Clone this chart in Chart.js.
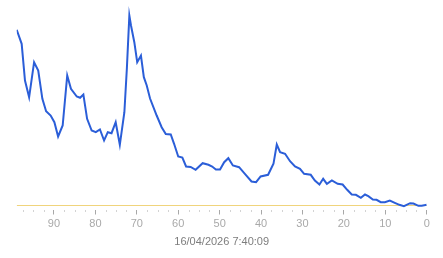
<!DOCTYPE html>
<html>
<head>
<meta charset="utf-8">
<script src="https://cdn.jsdelivr.net/npm/chart.js@4/dist/chart.umd.min.js"></script>
<style>
  html, body { margin: 0; padding: 0; background: #ffffff; }
  #wrap { width: 443px; height: 258px; position: relative; }
</style>
</head>
<body>
<div id="wrap"><canvas id="c"></canvas></div>
<script>
// Positions along the axis (samples ago) and the values
const positions = [99.0, 97.8, 97.0, 96.0, 94.8, 93.8, 92.8, 91.9, 90.8, 89.9,
  89.0, 87.9, 86.8, 85.9, 84.5, 83.7, 82.9, 82.0, 80.9, 79.9,
  78.9, 77.9, 77.0, 76.1, 75.1, 74.1, 73.0, 72.4, 71.8, 71.4,
  70.6, 69.9, 69.0, 68.3, 67.6, 66.8, 65.2, 64.0, 63.0, 61.8,
  61.0, 60.0, 59.0, 58.1, 57.0, 55.8, 54.1, 52.7, 51.8, 50.9,
  49.9, 48.9, 47.9, 46.8, 45.3, 43.9, 42.3, 41.2, 40.1, 38.3,
  37.0, 36.2, 35.4, 34.2, 33.0, 31.8, 30.6, 29.6, 28.0, 27.0,
  25.9, 25.0, 24.1, 22.9, 21.5, 20.3, 19.2, 18.1, 17.1, 15.9,
  14.9, 14.1, 13.0, 12.1, 11.1, 10.1, 8.9, 7.7, 6.6, 5.5,
  4.0, 3.2, 2.0, 1.2, 0.0];
const values = [175.7, 161.7, 125, 108.3, 143.3, 135, 106.7, 94.3, 90, 83.3,
  69, 80, 130, 116.7, 109, 107.7, 111, 86.7, 75, 73.3,
  76, 65, 73.3, 72.3, 83.3, 60.7, 93.3, 137, 190, 180,
  163.3, 143.3, 150, 128.3, 120, 107, 90, 78.3, 71.5, 71,
  61.7, 49, 48, 39, 38.5, 35.7, 42.3, 40.7, 39, 36,
  36, 43.3, 47.3, 40, 38.3, 31.7, 24, 23.3, 29, 30.7,
  41.7, 61, 53.3, 51.7, 44.3, 39, 36.7, 31.7, 30.7, 25,
  21, 26.7, 21.7, 25, 21.7, 21, 15.7, 11, 10.7, 7.7,
  11, 9.3, 6, 5.7, 3.3, 3.3, 5, 2.7, 0.7, -0.7,
  2.3, 2, -0.3, -0.3, 0.7];
// Reference (threshold) line
const thresholdValue = [0, 0];
const thresholdSpan = [99, 0];
// Axis
const axisMin = 0;
const axisMax = 99;
const majorStep = 10;
const minorStep = 2.5;
const axisTitle = '16/04/2026 7:40:09';

const lineData = positions.map((p, i) => ({ x: p, y: values[i] }));
const thresholdData = thresholdSpan.map((p, i) => ({ x: p, y: thresholdValue[i] }));

const minorDots = {
  id: 'minorDots',
  afterDraw(chart) {
    const xs = chart.scales.x;
    const ctx = chart.ctx;
    ctx.save();
    ctx.fillStyle = '#a8a8a8';
    for (let v = axisMin; v <= axisMax; v += minorStep) {
      if (Math.abs(v % majorStep) < 1e-6) continue;
      const px = Math.round(xs.getPixelForValue(v));
      ctx.fillRect(px, xs.top + 1, 1, 1);
    }
    ctx.restore();
  }
};

new Chart(document.getElementById('c'), {
  type: 'line',
  data: {
    datasets: [
      {
        data: lineData,
        borderColor: '#2b5ed8',
        borderWidth: 2,
        pointRadius: 0,
        tension: 0,
        fill: false
      },
      {
        data: thresholdData,
        borderColor: '#f0d47c',
        borderWidth: 1,
        pointRadius: 0,
        tension: 0,
        fill: false
      }
    ]
  },
  options: {
    responsive: true,
    maintainAspectRatio: false,
    animation: false,
    events: [],
    layout: { padding: { top: 5.5, left: 16.7, right: 16.3, bottom: 0 } },
    plugins: {
      legend: { display: false },
      tooltip: { enabled: false },
      title: { display: false }
    },
    scales: {
      x: {
        type: 'linear',
        reverse: true,
        min: axisMin,
        max: axisMax,
        afterFit(scale) { scale.height = 48.5; },
        border: { display: false },
        grid: {
          drawOnChartArea: false,
          drawTicks: true,
          tickLength: 5,
          tickColor: '#a8a8a8',
          tickWidth: 1
        },
        ticks: {
          stepSize: majorStep,
          includeBounds: false,
          autoSkip: false,
          maxRotation: 0,
          padding: 2.5,
          color: '#a9a9a9',
          font: { family: "'Liberation Sans', Arial, sans-serif", size: 11 }
        },
        title: {
          display: true,
          text: axisTitle,
          color: '#7d7d7d',
          font: { family: "'Liberation Sans', Arial, sans-serif", size: 11 },
          padding: { top: 0, bottom: 9.4 }
        }
      },
      y: {
        display: false,
        min: -4,
        max: 200
      }
    }
  },
  plugins: [minorDots]
});
</script>
</body>
</html>
